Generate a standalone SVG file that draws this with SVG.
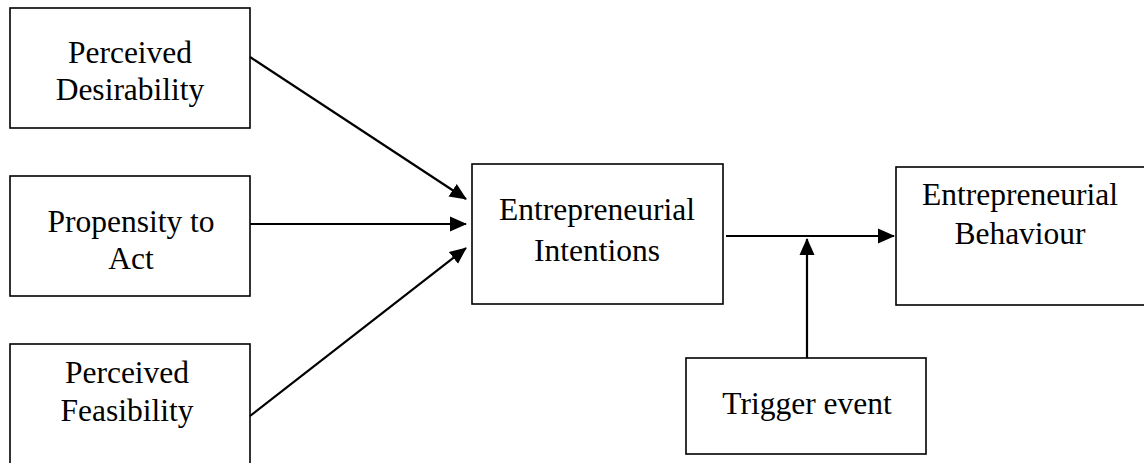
<svg xmlns="http://www.w3.org/2000/svg" width="1144" height="463" viewBox="0 0 1144 463">
<style>
.box{fill:#fff;stroke:#000;stroke-width:1.6}
.t{font-family:"Liberation Serif","Times New Roman",serif;font-size:31.5px;fill:#000;text-anchor:middle}
.c{stroke:#000;stroke-width:2.2;fill:none}
</style>
<defs>
<marker id="ah" markerUnits="userSpaceOnUse" markerWidth="17" markerHeight="17" viewBox="0 0 17 17" refX="16" refY="8.5" orient="auto">
<path d="M0,1 L17,8.5 L0,16 Z" fill="#000"/>
</marker>
</defs>
<rect width="1144" height="463" fill="#fff"/>
<g id="desirability"><rect class="box" x="10" y="8" width="240" height="120"/><text class="t" x="130" y="63">Perceived</text><text class="t" x="130" y="100">Desirability</text></g>
<g id="propensity"><rect class="box" x="10" y="176" width="240" height="120"/><text class="t" x="131" y="232">Propensity to</text><text class="t" x="131" y="269">Act</text></g>
<g id="feasibility"><rect class="box" x="10" y="344" width="240" height="130"/><text class="t" x="127" y="383">Perceived</text><text class="t" x="127" y="421">Feasibility</text></g>
<g id="intentions"><rect class="box" x="472" y="164" width="251" height="140"/><text class="t" x="597" y="220">Entrepreneurial</text><text class="t" x="597" y="261">Intentions</text></g>
<g id="behaviour"><rect class="box" x="896" y="167" width="260" height="138"/><text class="t" x="1020" y="205">Entrepreneurial</text><text class="t" x="1020" y="244">Behaviour</text></g>
<g id="trigger"><rect class="box" x="686" y="358" width="240" height="96"/><text class="t" x="807" y="414">Trigger event</text></g>
<g id="connectors">
<line class="c" x1="250" y1="57" x2="466" y2="199" marker-end="url(#ah)"/>
<line class="c" x1="250" y1="224" x2="466" y2="224" marker-end="url(#ah)"/>
<line class="c" x1="250" y1="416" x2="466" y2="248" marker-end="url(#ah)"/>
<line class="c" x1="726" y1="236" x2="894" y2="236" marker-end="url(#ah)"/>
<line class="c" x1="807" y1="358" x2="807" y2="239" marker-end="url(#ah)"/>
</g>
</svg>
